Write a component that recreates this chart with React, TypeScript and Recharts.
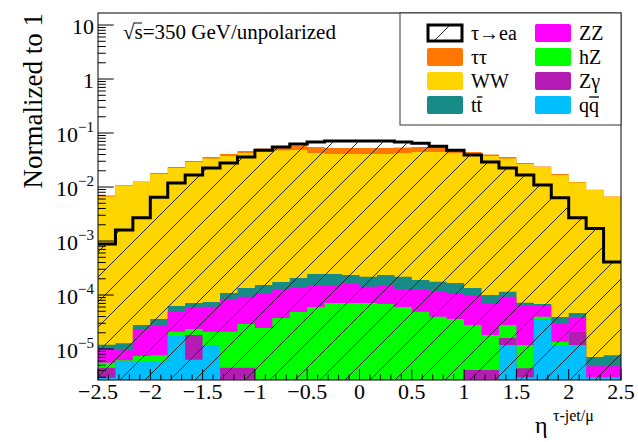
import { Area, ComposedChart, XAxis, YAxis } from "recharts";

const nBins = 30;
const xMin = -2.5;
const xMax = 2.5;
const binEdges = Array.from({ length: nBins + 1 }, (_, i) => xMin + ((xMax - xMin) * i) / nBins);

// signal (drawn as hatched outline, not stacked)
const signalTauEA = [
  8.8e-4, 1.6e-3, 2.7e-3, 6.5e-3, 0.0119, 0.0167, 0.0225, 0.0278, 0.036, 0.048,
  0.055, 0.0625, 0.068, 0.071, 0.071, 0.071, 0.071, 0.068, 0.065, 0.057,
  0.048, 0.039, 0.029, 0.0225, 0.0167, 0.0109, 0.0063, 0.0027, 0.0017, 4.1e-4,
];

// backgrounds, stacked from qq (bottom) to tautau (top)
const bkgQQbar = [
  2.9e-6, 6.0e-6, 6.0e-6, 6.0e-6, 1.74e-5, 6.3e-6, 1.15e-5, 2.8e-6, 2.8e-6, 2.8e-6,
  2.8e-6, 2.8e-6, 2.8e-6, 2.8e-6, 2.8e-6, 2.8e-6, 2.8e-6, 2.8e-6, 2.8e-6, 2.8e-6,
  2.8e-6, 2.8e-6, 2.8e-6, 1.19e-5, 3.0e-6, 3.59e-5, 1.19e-5, 1.19e-5, 3.0e-6, 3.0e-6,
];
const bkgZGamma = [
  1.6e-6, 0, 0, 0, 0, 1.19e-5, 0, 1.7e-6, 1.7e-6, 0,
  0, 0, 0, 0, 0, 0, 0, 0, 0, 0,
  0, 1.3e-6, 1.3e-6, 4.1e-6, 1.4e-6, 0, 0, 9.0e-6, 0, 0,
];
const bkgHZ = [
  1.1e-6, 0.2e-6, 1.4e-6, 1.7e-6, 3.5e-6, 5.2e-6, 9.4e-6, 1.65e-5, 2.45e-5, 2.17e-5,
  3.47e-5, 4.56e-5, 5.72e-5, 6.83e-5, 6.83e-5, 6.83e-5, 6.53e-5, 5.72e-5, 4.63e-5, 3.69e-5,
  3.31e-5, 2.37e-5, 1.41e-5, 1.18e-5, 7.5e-6, 3.8e-6, 1.7e-6, 0, 0, 0,
];
const bkgZZ = [
  4.5e-6, 3.3e-6, 1.6e-5, 1.9e-5, 2.75e-5, 3.66e-5, 3.98e-5, 5.98e-5, 6.41e-5, 8.45e-5,
  8.65e-5, 9.26e-5, 9.3e-5, 8.2e-5, 9.6e-5, 7.2e-5, 8.5e-5, 6.9e-5, 7.5e-5, 7.5e-5,
  7.3e-5, 7.2e-5, 5.29e-5, 6.53e-5, 5.14e-5, 2.28e-5, 1.67e-5, 1.83e-5, 1.8e-6, 1.8e-6,
];
const bkgTTbar = [
  1.9e-6, 3.3e-6, 4.4e-6, 9.2e-6, 1.41e-5, 1.11e-5, 1.34e-5, 2.83e-5, 4.19e-5, 4.4e-5,
  5.0e-5, 6.6e-5, 9.2e-5, 9.2e-5, 6.8e-5, 7.5e-5, 8.2e-5, 8.9e-5, 6.6e-5, 6.1e-5,
  5.8e-5, 3.5e-5, 2.89e-5, 2.2e-5, 8.7e-6, 5.6e-6, 8.9e-6, 7.2e-6, 2.3e-6, 2.9e-6,
];
const bkgWW = [
  6.66e-3, 0.01065, 0.01236, 0.01737, 0.02243, 0.02897, 0.03366, 0.03739, 0.0425, 0.04627,
  0.04725, 0.04823, 0.0424, 0.04063, 0.04064, 0.04065, 0.04064, 0.04242, 0.0443, 0.04431,
  0.04247, 0.04074, 0.0374, 0.03362, 0.02661, 0.02339, 0.01664, 0.01206, 8.79e-3, 6.6e-3,
];
const bkgTauTau = [
  2.9e-4, 2.3e-4, 2.6e-4, 7.6e-4, 9.7e-4, 1.26e-3, 2.2e-3, 3.4e-3, 3.8e-3, 5.2e-3,
  7.6e-3, 0.0103, 0.0124, 0.0119, 0.0119, 0.0119, 0.0119, 0.0112, 0.0105, 0.0105,
  6.8e-3, 3.6e-3, 2.5e-3, 2.2e-3, 1.15e-3, 5.1e-4, 7.3e-4, 2.8e-4, 1.0e-4, 6e-5,
];

const yMin = 2.67e-6;
const yMax = 16.7;
const yDecades = [-5, -4, -3, -2, -1, 0, 1];
const xTickValues = Array.from({ length: 51 }, (_, i) => (i - 25) / 10);
const xMajorLabels = ["−2.5", "−2", "−1.5", "−1", "−0.5", "0", "0.5", "1", "1.5", "2", "2.5"];

const legendLeft = [
  { name: "τ→ea", color: "signal" },
  { name: "ττ", color: "#ff7700" },
  { name: "WW", color: "#ffd500" },
  { name: "tt", color: "#178b88", bar: true },
];
const legendRight = [
  { name: "ZZ", color: "#ff00ff" },
  { name: "hZ", color: "#00ff00" },
  { name: "Zγ", color: "#b41cb4" },
  { name: "qq", color: "#00bfff", bar: true },
];

const yTickValues: number[] = [];
for (let d = -6; d <= 1; d++) {
  for (let m = 1; m <= 9; m++) {
    const v = m * Math.pow(10, d);
    if (v >= yMin && v <= yMax) yTickValues.push(v);
  }
}

const rows = binEdges.map((x, i) => {
  const b = Math.min(i, nBins - 1);
  const qq = bkgQQbar[b];
  const zg = qq + bkgZGamma[b];
  const hz = zg + bkgHZ[b];
  const zz = hz + bkgZZ[b];
  const tt = zz + bkgTTbar[b];
  const ww = tt + bkgWW[b];
  const tau = ww + bkgTauTau[b];
  return { x, qq, zg, hz, zz, tt, ww, tau, sig: signalTauEA[b] };
});

const FONT = "'Liberation Serif', 'Times New Roman', serif";

const YTick = (props: any) => {
  const { x, y, payload } = props;
  const lg = Math.log10(payload.value);
  const e = Math.round(lg);
  const major = Math.abs(lg - e) < 1e-6;
  const len = major ? 15.7 : 7.8;
  let label = null;
  if (major && yDecades.includes(e)) {
    label = (
      <text x={x - 4} y={y + 9} textAnchor="end" fontFamily={FONT} fontSize={22} fill="#000">
        {e === 0 ? "1" : "10"}
        {e < 0 && (
          <tspan fontSize={15} dy={-10}>
            {"−" + Math.abs(e)}
          </tspan>
        )}
      </text>
    );
  }
  return (
    <g>
      <line x1={x} x2={x + len} y1={y} y2={y} stroke="#000" strokeWidth={1} />
      {label}
    </g>
  );
};

const XTick = (props: any) => {
  const { x, y, payload } = props;
  const i = Math.round(payload.value * 10);
  const major = i % 5 === 0;
  const len = major ? 11 : 5.5;
  return (
    <g>
      <line x1={x} x2={x} y1={y} y2={y - len} stroke="#000" strokeWidth={1} />
      {major && (
        <text x={x} y={y + 19} textAnchor="middle" fontFamily={FONT} fontSize={22} fill="#000">
          {xMajorLabels[(i + 25) / 5]}
        </text>
      )}
    </g>
  );
};

function LegendColumn({ items, x }: { items: any[]; x: number }) {
  return (
    <g>
      {items.map((it, k) => {
        const cy = 33 + k * 24;
        const isSig = it.color === "signal";
        const tx = x + 44;
        return (
          <g key={it.name}>
            {isSig ? (
              <g>
                <rect x={x + 1} y={cy - 8} width={34} height={16} fill="#fff" />
                <rect x={x + 1} y={cy - 8} width={34} height={16} fill="url(#hatch)" stroke="#000" strokeWidth={3} />
              </g>
            ) : (
              <rect x={x} y={cy - 9} width={36} height={18} rx={2} fill={it.color} />
            )}
            <text x={tx} y={cy + 7} fontFamily={FONT} fontSize={20} fill="#000">
              {it.name}
            </text>
            {it.bar && <line x1={tx + (it.name === "tt" ? 5.8 : 10.2)} x2={tx + (it.name === "tt" ? 11.4 : 20)} y1={cy - 8} y2={cy - 8} stroke="#000" strokeWidth={1.3} />}
          </g>
        );
      })}
    </g>
  );
}

export default function App() {
  return (
    <div style={{ position: "absolute", left: 0, top: 0, width: 638, height: 442, background: "#fff" }}>
      <svg width={0} height={0} style={{ position: "absolute" }}>
        <defs>
          <pattern id="hatch" patternUnits="userSpaceOnUse" width={25} height={25}>
            <path d="M0,25 L25,0 M-6.25,6.25 L6.25,-6.25 M18.75,31.25 L31.25,18.75" stroke="#222" strokeWidth={1} fill="none" />
          </pattern>
        </defs>
      </svg>
      <ComposedChart width={638} height={442} data={rows} margin={{ top: 13, right: 17, bottom: 0, left: 0 }}>
        <XAxis
          dataKey="x"
          type="number"
          domain={[xMin, xMax]}
          allowDataOverflow
          ticks={xTickValues}
          interval={0}
          tick={XTick}
          tickLine={false}
          axisLine={false}
          tickSize={0}
          tickMargin={0}
          height={62}
        />
        <YAxis
          type="number"
          scale="log"
          domain={[yMin, yMax]}
          allowDataOverflow
          ticks={yTickValues}
          interval={0}
          tick={YTick}
          tickLine={false}
          axisLine={false}
          tickSize={0}
          tickMargin={0}
          width={98}
        />
        <Area dataKey="tau" type="stepAfter" fill="#ff7700" fillOpacity={1} stroke="none" baseValue={yMin} dot={false} activeDot={false} isAnimationActive={false} />
        <Area dataKey="ww" type="stepAfter" fill="#ffd500" fillOpacity={1} stroke="none" baseValue={yMin} dot={false} activeDot={false} isAnimationActive={false} />
        <Area dataKey="tt" type="stepAfter" fill="#178b88" fillOpacity={1} stroke="none" baseValue={yMin} dot={false} activeDot={false} isAnimationActive={false} />
        <Area dataKey="zz" type="stepAfter" fill="#ff00ff" fillOpacity={1} stroke="none" baseValue={yMin} dot={false} activeDot={false} isAnimationActive={false} />
        <Area dataKey="hz" type="stepAfter" fill="#00ff00" fillOpacity={1} stroke="none" baseValue={yMin} dot={false} activeDot={false} isAnimationActive={false} />
        <Area dataKey="zg" type="stepAfter" fill="#b41cb4" fillOpacity={1} stroke="none" baseValue={yMin} dot={false} activeDot={false} isAnimationActive={false} />
        <Area dataKey="qq" type="stepAfter" fill="#00bfff" fillOpacity={1} stroke="none" baseValue={yMin} dot={false} activeDot={false} isAnimationActive={false} />
        <Area dataKey="sig" type="stepAfter" fill="url(#hatch)" fillOpacity={1} stroke="#000" strokeWidth={3} baseValue={yMin} dot={false} activeDot={false} isAnimationActive={false} />
      </ComposedChart>
      <svg width={638} height={442} style={{ position: "absolute", left: 0, top: 0, pointerEvents: "none" }}>
        <rect x={98} y={13} width={523} height={367} fill="none" stroke="#000" strokeWidth={1} />
        <rect x={400} y={13} width={221} height={112} fill="#fff" stroke="#333" strokeWidth={1} />
        <LegendColumn items={legendLeft} x={427} />
        <LegendColumn items={legendRight} x={535} />
        <text x={123} y={39} fontFamily={FONT} fontSize={21} fill="#000">
          √s=350 GeV/unpolarized
        </text>
        <line x1={134} x2={142} y1={23} y2={23} stroke="#000" strokeWidth={1} />
        <text transform="translate(42,13) rotate(-90)" textAnchor="end" fontFamily={FONT} fontSize={27} fill="#000">
          Normalized to 1
        </text>
        <text x={535} y={433} fontFamily={FONT} fontSize={24} fill="#000">
          η
        </text>
        <text x={553} y={421} fontFamily={FONT} fontSize={16} fill="#000">
          τ-jet/μ
        </text>
      </svg>
    </div>
  );
}
